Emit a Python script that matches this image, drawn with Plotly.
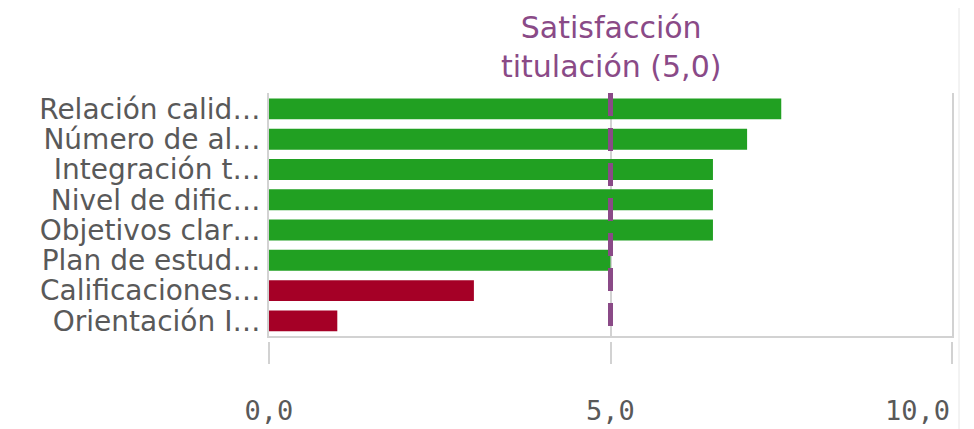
import plotly.graph_objects as go

categories = ["Relación calid…", "Número de al…", "Integración t…", "Nivel de dific…",
              "Objetivos clar…", "Plan de estud…", "Calificaciones…", "Orientación I…"]
values = [7.5, 7.0, 6.5, 6.5, 6.5, 5.0, 3.0, 1.0]
reference_value = 5.0
reference_label = "Satisfacción<br>titulación (5,0)"
tick_values = [0, 5, 10]
tick_labels = ["0,0", "5,0", "10,0"]

GREEN = "#21a022"
RED = "#a50026"
PURPLE = "#8a4a87"
GRID = "#d2d2d2"
TEXT = "#595959"

colors = [GREEN if v >= reference_value else RED for v in values]

# page body adds an 8px offset, so the figure is sized to fit the window
W, H = 966, 421
ml, mr, mt, mb = 261, 22, 85, 88
plot_h = H - mt - mb
dom_bottom = 5 / plot_h

fig = go.Figure()
fig.add_trace(go.Bar(
    x=values, y=categories, orientation="h",
    marker=dict(color=colors, line=dict(width=0)),
    xaxis="x", yaxis="y", hoverinfo="x+y", showlegend=False,
))
# invisible helper so the tick axis is drawn
fig.add_trace(go.Scatter(
    x=[reference_value], y=[categories[0]], xaxis="x2", yaxis="y",
    mode="markers", marker=dict(opacity=0), hoverinfo="skip", showlegend=False,
))

fig.update_layout(
    width=W, height=H,
    margin=dict(l=ml, r=mr, t=mt, b=mb, pad=0, autoexpand=False),
    paper_bgcolor="white", plot_bgcolor="white",
    bargap=0.31,
    font=dict(family="DejaVu Sans", color=TEXT),
    xaxis=dict(
        range=[0, 10], tickvals=tick_values, showticklabels=False,
        showgrid=True, gridcolor=GRID, gridwidth=2,
        showline=True, linecolor=GRID, linewidth=2,
        zeroline=False, ticks="", fixedrange=True, automargin=False,
    ),
    xaxis2=dict(
        range=[0, 10], overlaying="x", anchor="free", position=0, side="bottom",
        tickvals=tick_values, ticktext=tick_labels[:-1] + [""],
        ticks="outside", ticklen=22, tickwidth=2, tickcolor=GRID,
        showgrid=False, showline=False, zeroline=False, automargin=False,
        tickfont=dict(family="DejaVu Sans Mono", size=27, color=TEXT),
        ticklabelstandoff=24,
    ),
    yaxis=dict(
        domain=[dom_bottom, 1],
        categoryorder="array", categoryarray=categories, autorange="reversed",
        tickmode="array", tickvals=categories, ticktext=categories,
        showgrid=False, zeroline=False, automargin=False,
        showline=True, linecolor=GRID, linewidth=2, mirror=True,
        ticks="", ticklabelstandoff=1,
        tickfont=dict(family="DejaVu Sans", size=28, color=TEXT),
    ),
)

# reference line
fig.add_shape(type="line", xref="x", yref="paper",
              x0=reference_value, x1=reference_value, y0=1, y1=dom_bottom,
              line=dict(color=PURPLE, width=5, dash="23px,12px"))
fig.add_annotation(x=reference_value, xref="x", y=1, yref="paper",
                   text=reference_label, showarrow=False,
                   xanchor="center", yanchor="bottom", yshift=7,
                   font=dict(family="DejaVu Sans", size=30, color=PURPLE))
# last tick label kept inside the plot edge
fig.add_annotation(x=tick_values[-1], xref="x2", y=0, yref="paper",
                   text=tick_labels[-1], showarrow=False,
                   xanchor="right", yanchor="top", yshift=-52,
                   font=dict(family="DejaVu Sans Mono", size=27, color=TEXT))

# faint neighbouring panel edge on the right
pw = W - ml - mr
xr = (951 - ml) / pw
fig.add_shape(type="line", xref="paper", yref="paper",
              x0=xr, x1=xr, y0=(H - mb) / plot_h + 0.05, y1=-(mb) / plot_h - 0.05,
              line=dict(color="#e6e6e6", width=1))

fig.write_html("out.html")
